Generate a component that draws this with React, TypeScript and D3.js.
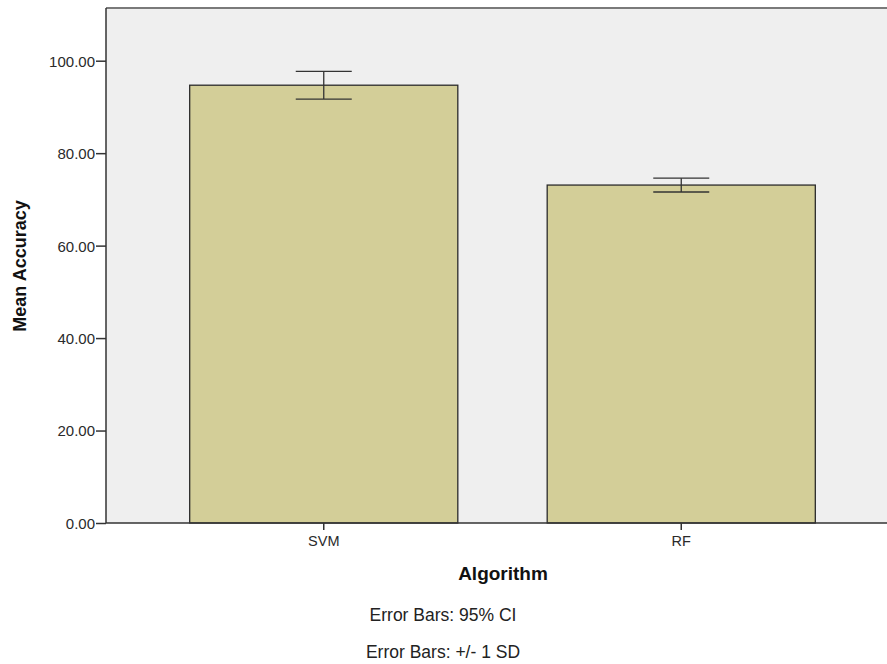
import React, { useEffect, useRef } from 'react';
import * as d3 from 'd3';

const categories = ['SVM', 'RF'];
const meanAccuracy = [94.7, 73.1];
const errorHalf = [3.0, 1.5];
const yTicks = [0, 20, 40, 60, 80, 100];
const footnotes = ['Error Bars: 95% CI', 'Error Bars: +/- 1 SD'];

const W = 887;
const H = 664;
const FONT = '"Liberation Sans", Arial, sans-serif';

const App: React.FC = () => {
  const svgRef = useRef<SVGSVGElement>(null);

  useEffect(() => {
    const svg = d3.select(svgRef.current);
    svg.selectAll('*').remove();

    const left = 106;
    const top = 8;
    const bottom = 523;

    const x = d3.scaleBand<string>()
      .domain(categories)
      .range([145, 860])
      .paddingInner(0.25)
      .paddingOuter(0.125);

    const y = d3.scaleLinear()
      .domain([0, 111.4])
      .range([bottom, top]);

    // plot background
    svg.append('rect')
      .attr('x', left)
      .attr('y', top)
      .attr('width', W - left)
      .attr('height', bottom - top)
      .attr('fill', '#efefef');

    svg.append('line')
      .attr('x1', left).attr('x2', W)
      .attr('y1', top).attr('y2', top)
      .attr('stroke', '#7a7a7a')
      .attr('stroke-width', 2);

    // bars
    svg.selectAll('.bar')
      .data(categories)
      .enter().append('rect')
      .attr('class', 'bar')
      .attr('x', d => x(d)!)
      .attr('y', (_d, i) => y(meanAccuracy[i]))
      .attr('width', x.bandwidth())
      .attr('height', (_d, i) => bottom - y(meanAccuracy[i]))
      .attr('fill', '#d3ce98')
      .attr('stroke', '#2b2b2b')
      .attr('stroke-width', 1.3);

    // error bars
    const capHalf = 28;
    categories.forEach((c, i) => {
      const cx = x(c)! + x.bandwidth() / 2;
      const hi = y(meanAccuracy[i] + errorHalf[i]);
      const lo = y(meanAccuracy[i] - errorHalf[i]);
      const g = svg.append('g').attr('stroke', '#333').attr('stroke-width', 1.3);
      g.append('line').attr('x1', cx).attr('x2', cx).attr('y1', hi).attr('y2', lo);
      g.append('line').attr('x1', cx - capHalf).attr('x2', cx + capHalf).attr('y1', hi).attr('y2', hi);
      g.append('line').attr('x1', cx - capHalf).attr('x2', cx + capHalf).attr('y1', lo).attr('y2', lo);
    });

    // Y axis
    const yAxis = svg.append('g')
      .attr('transform', `translate(${left},0)`)
      .call(d3.axisLeft(y).tickValues(yTicks).tickSize(10).tickSizeOuter(0).tickFormat(d3.format('.2f')));
    yAxis.select('.domain').attr('d', `M0,${top}V${bottom}`);
    yAxis.selectAll('text')
      .attr('font-family', FONT)
      .attr('font-size', 15)
      .attr('fill', '#2a2a2a')
      .attr('x', -11)
      .attr('dy', '0.36em');

    // X axis
    const xAxis = svg.append('g')
      .attr('transform', `translate(0,${bottom})`)
      .call(d3.axisBottom(x).tickSize(7).tickSizeOuter(0));
    xAxis.select('.domain').attr('d', `M${left},0H${W}`);
    xAxis.selectAll('text')
      .attr('font-family', FONT)
      .attr('font-size', 14.5)
      .attr('fill', '#2a2a2a')
      .attr('y', 13)
      .attr('dy', '0.71em');

    svg.selectAll('.domain, .tick line')
      .attr('stroke', '#333')
      .attr('stroke-width', 1.5);

    // axis titles
    svg.append('text')
      .attr('x', 503)
      .attr('y', 580)
      .attr('text-anchor', 'middle')
      .attr('font-family', FONT)
      .attr('font-weight', 'bold')
      .attr('font-size', 19)
      .attr('fill', '#111')
      .text('Algorithm');

    svg.append('text')
      .attr('transform', 'rotate(-90)')
      .attr('x', -266)
      .attr('y', 26)
      .attr('text-anchor', 'middle')
      .attr('font-family', FONT)
      .attr('font-weight', 'bold')
      .attr('font-size', 18)
      .attr('fill', '#111')
      .text('Mean Accuracy');

    // footnotes
    svg.selectAll('.note')
      .data(footnotes)
      .enter().append('text')
      .attr('class', 'note')
      .attr('x', 443)
      .attr('y', (_d, i) => 621 + i * 37)
      .attr('text-anchor', 'middle')
      .attr('font-family', FONT)
      .attr('font-size', 17.5)
      .attr('fill', '#222')
      .text(d => d);
  }, []);

  return (
    <svg
      ref={svgRef}
      width={W}
      height={H}
      style={{ position: 'absolute', left: 0, top: 0, background: '#fff' }}
    />
  );
};

export default App;
